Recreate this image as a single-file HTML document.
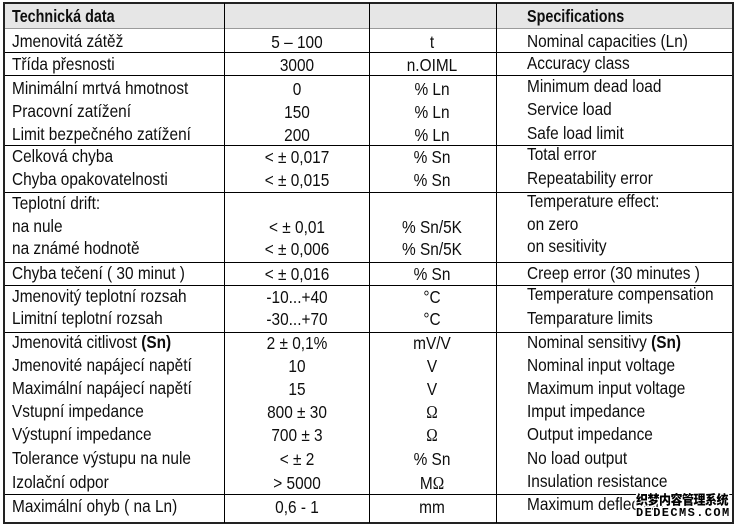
<!DOCTYPE html>
<html>
<head>
<meta charset="utf-8">
<style>
html,body{margin:0;padding:0;background:#fff;}
body{width:742px;height:527px;overflow:hidden;position:relative;}
.ln{position:absolute;background:#000;}
.hd{position:absolute;background:#e6e6e6;}
.t{position:absolute;font-family:"Liberation Sans","DejaVu Sans",sans-serif;font-size:17.5px;line-height:20px;color:#0e0e0e;white-space:nowrap;transform:scaleX(0.88);transform-origin:0 50%;}
.c{position:absolute;width:200px;text-align:center;font-family:"Liberation Sans","DejaVu Sans",sans-serif;font-size:17.5px;line-height:20px;color:#0e0e0e;white-space:nowrap;transform:scaleX(0.88);transform-origin:50% 50%;}
.m{left:196.5px;}
.u{left:331.5px;}
.b{font-weight:bold;}
.hb{transform:scaleX(0.82);}
.om{font-family:"Liberation Serif","DejaVu Serif",serif;}
.wm1{position:absolute;left:636px;top:492px;font-family:"Noto Sans CJK SC","WenQuanYi Zen Hei",sans-serif;font-weight:900;font-size:12px;line-height:15px;color:#000;letter-spacing:-0.5px;white-space:nowrap;transform:scaleY(1.1);
text-shadow:1px 0 #fff,-1px 0 #fff,0 1px #fff,0 -1px #fff,1px 1px #fff,-1px -1px #fff,1px -1px #fff,-1px 1px #fff,2px 0 #fff,-2px 0 #fff,0 2px #fff,0 -2px #fff;}
.wm2{position:absolute;left:636px;top:506px;font-family:"Liberation Mono",monospace;font-weight:bold;font-size:12px;line-height:14px;color:#000;letter-spacing:1.4px;white-space:nowrap;
text-shadow:1px 0 #fff,-1px 0 #fff,0 1px #fff,0 -1px #fff,1px 1px #fff,-1px -1px #fff,1px -1px #fff,-1px 1px #fff;}
</style>
</head>
<body>
<!-- header background -->
<div class="hd" style="left:4px;top:4px;width:729px;height:24px;"></div>

<!-- horizontal lines -->
<div class="ln" style="left:3px;top:2px;width:731px;height:2px;background:#222;"></div>
<div class="ln" style="left:4px;top:28px;width:729px;height:1px;background:#9a9a9a;"></div>
<div class="ln" style="left:4px;top:52px;width:729px;height:1px;"></div>
<div class="ln" style="left:4px;top:75px;width:729px;height:1px;"></div>
<div class="ln" style="left:4px;top:145px;width:729px;height:1px;"></div>
<div class="ln" style="left:4px;top:192px;width:729px;height:1px;"></div>
<div class="ln" style="left:4px;top:262px;width:729px;height:1px;"></div>
<div class="ln" style="left:4px;top:285px;width:729px;height:1px;"></div>
<div class="ln" style="left:4px;top:332px;width:729px;height:1px;"></div>
<div class="ln" style="left:4px;top:494px;width:729px;height:1px;"></div>
<div class="ln" style="left:3px;top:522px;width:731px;height:2px;background:#222;"></div>

<!-- vertical lines -->
<div class="ln" style="left:3px;top:2px;width:2px;height:522px;background:#222;"></div>
<div class="ln" style="left:224px;top:3px;width:1px;height:520px;"></div>
<div class="ln" style="left:369px;top:3px;width:1px;height:520px;"></div>
<div class="ln" style="left:496px;top:3px;width:1px;height:520px;"></div>
<div class="ln" style="left:732px;top:2px;width:2px;height:522px;background:#222;"></div>

<!-- header -->
<div class="t b hb" style="left:12px;top:6px;">Technická data</div>
<div class="t b hb" style="left:527px;top:6px;">Specifications</div>

<!-- left column -->
<div class="t" style="left:12px;top:31px;">Jmenovitá zátěž</div>
<div class="t" style="left:12px;top:54px;">Třída přesnosti</div>
<div class="t" style="left:12px;top:78px;">Minimální mrtvá hmotnost</div>
<div class="t" style="left:12px;top:101px;">Pracovní zatížení</div>
<div class="t" style="left:12px;top:124px;">Limit bezpečného zatížení</div>
<div class="t" style="left:12px;top:146px;">Celková chyba</div>
<div class="t" style="left:12px;top:169px;">Chyba opakovatelnosti</div>
<div class="t" style="left:12px;top:193px;">Teplotní drift:</div>
<div class="t" style="left:12px;top:216px;">na nule</div>
<div class="t" style="left:12px;top:238px;">na známé hodnotě</div>
<div class="t" style="left:12px;top:263px;">Chyba tečení ( 30 minut )</div>
<div class="t" style="left:12px;top:286px;">Jmenovitý teplotní rozsah</div>
<div class="t" style="left:12px;top:308px;">Limitní teplotní rozsah</div>
<div class="t" style="left:12px;top:332px;">Jmenovitá citlivost <span class="b">(Sn)</span></div>
<div class="t" style="left:12px;top:355px;">Jmenovité napájecí napětí</div>
<div class="t" style="left:12px;top:378px;">Maximální napájecí napětí</div>
<div class="t" style="left:12px;top:401px;">Vstupní impedance</div>
<div class="t" style="left:12px;top:424px;">Výstupní impedance</div>
<div class="t" style="left:12px;top:448px;">Tolerance výstupu na nule</div>
<div class="t" style="left:12px;top:472px;">Izolační odpor</div>
<div class="t" style="left:12px;top:496px;">Maximální ohyb ( na Ln)</div>

<!-- middle column -->
<div class="c m" style="top:32px;">5 – 100</div>
<div class="c m" style="top:55px;">3000</div>
<div class="c m" style="top:79px;">0</div>
<div class="c m" style="top:102px;">150</div>
<div class="c m" style="top:125px;">200</div>
<div class="c m" style="top:147px;">&lt; ± 0,017</div>
<div class="c m" style="top:170px;">&lt; ± 0,015</div>
<div class="c m" style="top:217px;">&lt; ± 0,01</div>
<div class="c m" style="top:239px;">&lt; ± 0,006</div>
<div class="c m" style="top:264px;">&lt; ± 0,016</div>
<div class="c m" style="top:287px;">-10...+40</div>
<div class="c m" style="top:309px;">-30...+70</div>
<div class="c m" style="top:333px;">2 ± 0,1%</div>
<div class="c m" style="top:356px;">10</div>
<div class="c m" style="top:379px;">15</div>
<div class="c m" style="top:402px;">800 ± 30</div>
<div class="c m" style="top:425px;">700 ± 3</div>
<div class="c m" style="top:449px;">&lt; ± 2</div>
<div class="c m" style="top:473px;">&gt; 5000</div>
<div class="c m" style="top:497px;">0,6 - 1</div>

<!-- units column -->
<div class="c u" style="top:32px;">t</div>
<div class="c u" style="top:55px;">n.OIML</div>
<div class="c u" style="top:79px;">% Ln</div>
<div class="c u" style="top:102px;">% Ln</div>
<div class="c u" style="top:125px;">% Ln</div>
<div class="c u" style="top:147px;">% Sn</div>
<div class="c u" style="top:170px;">% Sn</div>
<div class="c u" style="top:217px;">% Sn/5K</div>
<div class="c u" style="top:239px;">% Sn/5K</div>
<div class="c u" style="top:264px;">% Sn</div>
<div class="c u" style="top:287px;">°C</div>
<div class="c u" style="top:309px;">°C</div>
<div class="c u" style="top:333px;">mV/V</div>
<div class="c u" style="top:356px;">V</div>
<div class="c u" style="top:379px;">V</div>
<div class="c u" style="top:402px;"><span class="om">Ω</span></div>
<div class="c u" style="top:425px;"><span class="om">Ω</span></div>
<div class="c u" style="top:449px;">% Sn</div>
<div class="c u" style="top:473px;">M<span class="om">Ω</span></div>
<div class="c u" style="top:497px;">mm</div>

<!-- right column -->
<div class="t" style="left:527px;top:31px;">Nominal capacities (Ln)</div>
<div class="t" style="left:527px;top:53px;">Accuracy class</div>
<div class="t" style="left:527px;top:76px;">Minimum dead load</div>
<div class="t" style="left:527px;top:99px;">Service load</div>
<div class="t" style="left:527px;top:123px;">Safe load limit</div>
<div class="t" style="left:527px;top:144px;">Total error</div>
<div class="t" style="left:527px;top:168px;">Repeatability error</div>
<div class="t" style="left:527px;top:191px;">Temperature effect:</div>
<div class="t" style="left:527px;top:214px;">on zero</div>
<div class="t" style="left:527px;top:236px;">on sesitivity</div>
<div class="t" style="left:527px;top:263px;">Creep error (30 minutes )</div>
<div class="t" style="left:527px;top:284px;">Temperature compensation</div>
<div class="t" style="left:527px;top:308px;">Temparature limits</div>
<div class="t" style="left:527px;top:332px;">Nominal sensitivy <span class="b">(Sn)</span></div>
<div class="t" style="left:527px;top:355px;">Nominal input voltage</div>
<div class="t" style="left:527px;top:378px;">Maximum input voltage</div>
<div class="t" style="left:527px;top:401px;">Imput impedance</div>
<div class="t" style="left:527px;top:424px;">Output impedance</div>
<div class="t" style="left:527px;top:448px;">No load output</div>
<div class="t" style="left:527px;top:471px;">Insulation resistance</div>
<div class="t" style="left:527px;top:494px;">Maximum deflection</div>

<!-- watermark -->
<div class="wm1">织梦内容管理系统</div>
<div class="wm2">DEDECMS.COM</div>
</body>
</html>
